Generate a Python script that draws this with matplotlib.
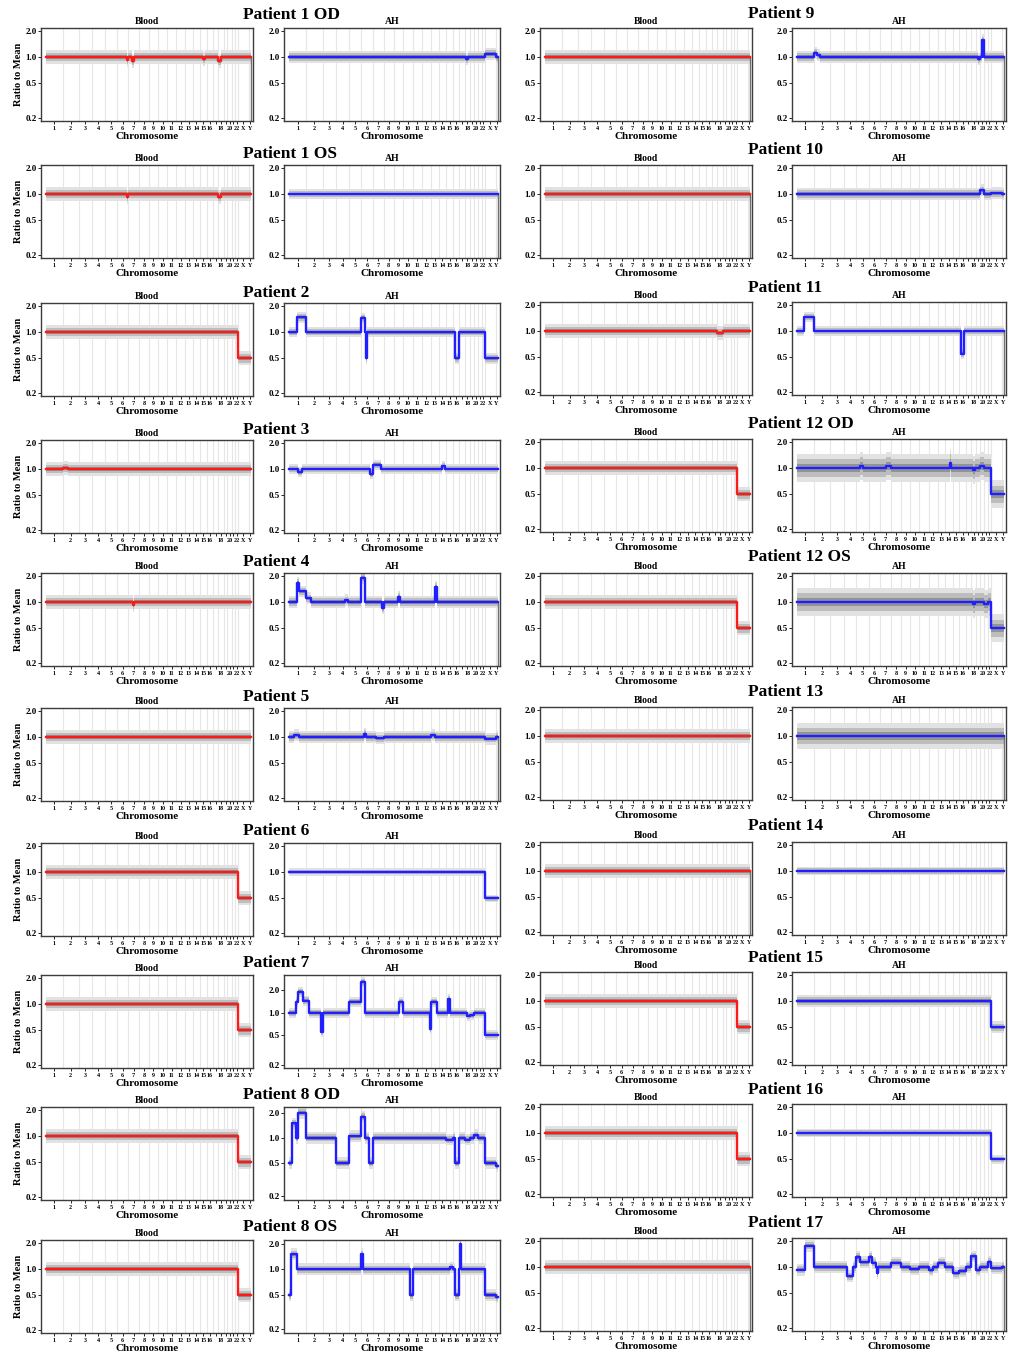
import numpy as np
import matplotlib.pyplot as plt

plt.rcParams['font.family'] = ['Liberation Serif', 'DejaVu Serif']
plt.rcParams['font.weight'] = 'bold'

# chromosome layout (Mb, roughly hg19; Y only mappable part)
CHROMS = [str(i) for i in range(1, 23)] + ['X', 'Y']
CHROM_LEN = [249, 243, 198, 191, 181, 171, 159, 146, 141, 136, 135, 134,
             115, 107, 103, 90, 81, 78, 59, 63, 48, 51, 155, 30]
TICK_LABELS = ['' if c in ('17', '19', '21') else c for c in CHROMS]

# grid of patients: each row holds a left pair and a right pair
LEFT_PATIENTS = ['Patient 1 OD', 'Patient 1 OS', 'Patient 2', 'Patient 3', 'Patient 4',
                 'Patient 5', 'Patient 6', 'Patient 7', 'Patient 8 OD', 'Patient 8 OS']
RIGHT_PATIENTS = ['Patient 9', 'Patient 10', 'Patient 11', 'Patient 12 OD', 'Patient 12 OS',
                  'Patient 13', 'Patient 14', 'Patient 15', 'Patient 16', 'Patient 17']

MALE = ['Patient 2', 'Patient 6', 'Patient 7', 'Patient 8 OD', 'Patient 8 OS',
        'Patient 12 OD', 'Patient 12 OS', 'Patient 15', 'Patient 16']

# segments that differ from 1.0: (chromosome, start fraction, end fraction, ratio)
BLOOD_EVENTS = {
    'Patient 1 OD': [('6', 0.9, 1.0, 0.92), ('7', 0.3, 0.5, 0.9), ('15', 0.4, 0.7, 0.95), ('18', 0.0, 0.6, 0.91)],
    'Patient 1 OS': [('6', 0.9, 1.0, 0.93), ('18', 0.0, 0.6, 0.93)],
    'Patient 3': [('2', 0.0, 0.3, 1.03)],
    'Patient 4': [('7', 0.4, 0.5, 0.92)],
    'Patient 11': [('18', 0.0, 1.0, 0.95)],
}

AH_EVENTS = {
    'Patient 1 OD': [('18', 0.2, 0.6, 0.95), ('X', 0.0, 1.0, 1.08)],
    'Patient 2': [('1', 0.45, 1.0, 1.47), ('6', 0.0, 0.3, 1.45), ('6', 0.4, 0.5, 0.5),
                  ('16', 0.3, 1.0, 0.5)],
    'Patient 3': [('1', 0.55, 0.75, 0.92), ('6', 0.7, 1.0, 0.87), ('7', 0.0, 0.7, 1.12),
                  ('14', 0.4, 0.8, 1.08)],
    'Patient 4': [('1', 0.45, 0.6, 1.65), ('1', 0.6, 1.0, 1.32), ('2', 0.0, 0.3, 1.1),
                  ('4', 0.7, 0.9, 1.05), ('6', 0.0, 0.3, 1.9), ('7', 0.8, 1.0, 0.85),
                  ('9', 0.4, 0.6, 1.15), ('13', 0.5, 0.8, 1.5)],
    'Patient 5': [('1', 0.3, 0.6, 1.05), ('6', 0.2, 0.4, 1.08), ('7', 0.3, 1.0, 0.97),
                  ('13', 0.0, 0.5, 1.05), ('X', 0.0, 1.0, 0.96)],
    'Patient 7': [('1', 0.4, 0.55, 1.4), ('1', 0.55, 0.8, 1.9), ('1', 0.8, 1.0, 1.45),
                  ('2', 0.0, 0.2, 1.45), ('2', 0.9, 1.0, 0.55), ('5', 0.0, 1.0, 1.4),
                  ('6', 0.0, 0.35, 2.6), ('9', 0.5, 1.0, 1.4), ('12', 0.95, 1.0, 0.6),
                  ('13', 0.0, 0.8, 1.4), ('15', 0.3, 0.6, 1.5), ('18', 0.5, 1.0, 0.9),
                  ('19', 0.0, 1.0, 0.92)],
    'Patient 8 OD': [('1', 0.0, 0.15, 0.5), ('1', 0.15, 0.4, 1.5), ('1', 0.5, 1.0, 2.0),
                     ('4', 0.0, 1.0, 0.5), ('5', 0.0, 1.0, 1.05), ('6', 0.0, 0.3, 1.8),
                     ('6', 0.65, 1.0, 0.5), ('15', 0.0, 1.0, 0.95), ('16', 0.3, 1.0, 0.5),
                     ('18', 0.0, 1.0, 0.95), ('20', 0.0, 1.0, 1.08), ('Y', 0.0, 1.0, 0.46)],
    'Patient 8 OS': [('1', 0.0, 0.1, 0.5), ('1', 0.1, 0.45, 1.5), ('6', 0.0, 0.1, 1.5),
                     ('10', 0.75, 1.0, 0.5), ('15', 0.5, 1.0, 1.05), ('16', 0.3, 1.0, 0.5),
                     ('17', 0.1, 0.3, 2.0), ('Y', 0.0, 1.0, 0.47)],
    'Patient 9': [('2', 0.0, 0.2, 1.12), ('2', 0.2, 0.4, 1.05), ('19', 0.5, 1.0, 0.95),
                  ('20', 0.3, 1.0, 1.55)],
    'Patient 10': [('20', 0.0, 1.0, 1.1), ('X', 0.0, 1.0, 1.02)],
    'Patient 11': [('1', 0.4, 1.0, 1.45), ('16', 0.3, 0.7, 0.55)],
    'Patient 12 OD': [('5', 0.3, 0.5, 1.05), ('7', 0.5, 1.0, 1.05), ('14', 0.6, 0.8, 1.15),
                      ('18', 0.3, 0.7, 0.95), ('20', 0.0, 1.0, 1.05)],
    'Patient 12 OS': [('18', 0.3, 0.7, 0.95), ('21', 0.0, 1.0, 0.95)],
    'Patient 17': [('1', 0.0, 0.5, 0.93), ('1', 0.5, 1.0, 1.75), ('4', 0.3, 0.7, 0.78),
                   ('5', 0.0, 0.3, 1.3), ('5', 0.3, 1.0, 1.13), ('6', 0.0, 0.3, 1.3),
                   ('6', 0.3, 0.6, 1.12), ('6', 0.7, 0.8, 0.85), ('8', 0.0, 1.0, 1.12),
                   ('10', 0.0, 1.0, 0.95), ('12', 0.0, 0.5, 0.92), ('13', 0.0, 1.0, 1.12),
                   ('15', 0.0, 1.0, 0.85), ('16', 0.0, 1.0, 0.9), ('18', 0.0, 1.0, 1.32),
                   ('19', 0.0, 1.0, 0.92), ('22', 0.0, 1.0, 1.15), ('X', 0.0, 1.0, 0.97)],
}

# bin scatter around the segments (fraction)
BLOOD_SPREAD = {}
AH_SPREAD = {'Patient 1 OS': 0.08, 'Patient 2': 0.09, 'Patient 3': 0.08, 'Patient 6': 0.06,
             'Patient 11': 0.08, 'Patient 12 OD': 0.26, 'Patient 12 OS': 0.26,
             'Patient 13': 0.24, 'Patient 14': 0.07, 'Patient 16': 0.07}

# panels whose last (Y) bins fall to zero
Y_DROP = [('Patient 1 OD', 'Blood'), ('Patient 1 OD', 'AH'), ('Patient 1 OS', 'AH'),
          ('Patient 4', 'AH'), ('Patient 5', 'AH'), ('Patient 9', 'Blood'), ('Patient 9', 'AH'),
          ('Patient 10', 'Blood'), ('Patient 11', 'AH'), ('Patient 13', 'AH'),
          ('Patient 14', 'Blood'), ('Patient 17', 'Blood'), ('Patient 17', 'AH')]

AH_YLIM = {'Patient 7': (0.18, 3.2), 'Patient 8 OD': (0.18, 2.35), 'Patient 8 OS': (0.18, 2.2)}

# layout in pixels
W, H = 1010, 1353
COL_LEFT = [41, 284, 540, 792]
COL_WIDTH = [212, 216, 212, 214]
LEFT_TOP = [28, 165, 303, 440, 573, 708, 843, 975, 1107, 1240]
RIGHT_TOP = [28, 165, 302, 439, 573, 707, 842, 972, 1104, 1238]
PANEL_H = 93
LEFT_TITLE_Y = [15, 154, 293, 430, 562, 697, 831, 963, 1095, 1227]
RIGHT_TITLE_Y = [14, 150, 288, 424, 557, 692, 826, 958, 1090, 1223]

offsets = np.concatenate([[0], np.cumsum(CHROM_LEN)[:-1]])
centers = offsets + np.array(CHROM_LEN) / 2
total = float(np.sum(CHROM_LEN))


def profile(events, male):
    evs_all = []
    if male:
        evs_all += [('X', 0.0, 1.0, 0.5), ('Y', 0.0, 1.0, 0.5)]
    evs_all += events
    xs, ys = [], []
    for c, off, ln in zip(CHROMS, offsets, CHROM_LEN):
        evs = [e for e in evs_all if e[0] == c]
        cuts = sorted({0.0, 1.0} | {e[1] for e in evs} | {e[2] for e in evs})
        for a, b in zip(cuts[:-1], cuts[1:]):
            m = (a + b) / 2
            lv = 1.0
            for e in evs:
                if e[1] <= m < e[2]:
                    lv = e[3]
            xs.append(off + a * ln)
            ys.append(lv)
    xs.append(total)
    ys.append(ys[-1])
    return np.array(xs), np.array(ys)


fig = plt.figure(figsize=(W / 100, H / 100), dpi=100)


def draw_panel(col, top, patient, kind):
    ax = fig.add_axes([COL_LEFT[col] / W, 1 - (top + PANEL_H) / H, COL_WIDTH[col] / W, PANEL_H / H])
    if kind == 'Blood':
        events = BLOOD_EVENTS.get(patient, [])
        spread = BLOOD_SPREAD.get(patient, 0.12)
        seg_color = '#ff1a1a'
        ylim = (0.185, 2.15)
    else:
        events = AH_EVENTS.get(patient, [])
        spread = AH_SPREAD.get(patient, 0.10)
        seg_color = '#1f1fff'
        ylim = AH_YLIM.get(patient, (0.185, 2.15))
    xs, ys = profile(events, patient in MALE)

    for b in offsets[1:]:
        ax.axvline(b, color='#e6e6e6', lw=0.8, zorder=0)
    # scatter of the bins: faint outer halo, main band, dense core
    for k, colr in [(1.7, '#e2e2e2'), (1.0, '#bdbdbd'), (0.45, '#939393')]:
        s = spread * k
        ax.fill_between(xs, ys / (1 + s), ys * (1 + s), step='post',
                        color=colr, lw=0, zorder=1)
    ax.plot(xs, ys, drawstyle='steps-post', color=seg_color, lw=1.7, zorder=3)
    if (patient, kind) in Y_DROP:
        ax.vlines(total, ylim[0], ys[-1], color='#707070', lw=1.0, zorder=2)

    ax.set_yscale('log')
    ax.set_ylim(ylim)
    ax.set_xlim(-75, total + 35)
    ax.set_yticks([0.2, 0.5, 1.0, 2.0])
    ax.set_yticklabels(['0.2', '0.5', '1.0', '2.0'])
    ax.minorticks_off()
    ax.set_xticks(centers)
    ax.set_xticklabels(TICK_LABELS)
    ax.tick_params(axis='x', labelsize=4.4, length=2, pad=1.5, width=0.6)
    ax.tick_params(axis='y', labelsize=6.5, length=2, pad=1, width=0.6)
    for sp in ax.spines.values():
        sp.set_color('#3c3c3c')
        sp.set_linewidth(1.0)
    ax.set_title(kind, fontsize=7, fontweight='bold', pad=3)
    ax.set_xlabel('Chromosome', fontsize=8, fontweight='bold', labelpad=1)
    if col == 0:
        ax.set_ylabel('Ratio to Mean', fontsize=7.5, fontweight='bold', labelpad=2)
    return ax


for r in range(10):
    lp, rp = LEFT_PATIENTS[r], RIGHT_PATIENTS[r]
    draw_panel(0, LEFT_TOP[r], lp, 'Blood')
    draw_panel(1, LEFT_TOP[r], lp, 'AH')
    draw_panel(2, RIGHT_TOP[r], rp, 'Blood')
    draw_panel(3, RIGHT_TOP[r], rp, 'AH')
    fig.text(243 / W, 1 - LEFT_TITLE_Y[r] / H, lp, fontsize=12.5, fontweight='bold',
             ha='left', va='center')
    fig.text(748 / W, 1 - RIGHT_TITLE_Y[r] / H, rp, fontsize=12.5, fontweight='bold',
             ha='left', va='center')

fig.savefig('out.png', dpi=100, facecolor='white')
